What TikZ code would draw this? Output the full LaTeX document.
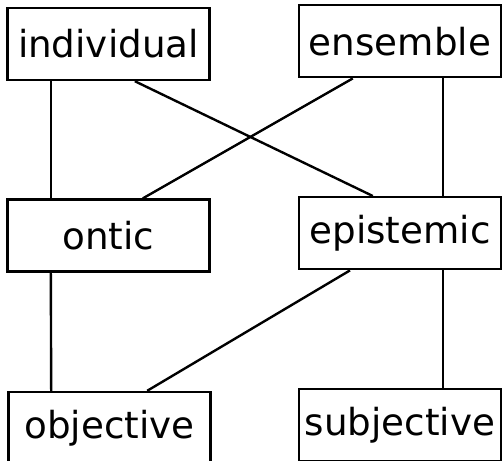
\documentclass[tikz,border=0pt]{standalone}
\usepackage{fontspec}
\setmainfont{DejaVu Sans}

\begin{document}
\begin{tikzpicture}

    \useasboundingbox (0,0) rectangle (12.575,-11.525);

    \begin{scope}[every node/.style={rectangle,draw,line width=1.7pt,minimum width=5.05cm,minimum height=1.8cm,inner sep=0pt,font=\fontsize{26.5}{30}\selectfont}]
        \node (individual) at (2.71,-1.1) {individual};
        \node (ensemble) at (10.0,-1.03) {ensemble};
        \node (ontic) at (2.71,-5.89) {ontic};
        \node (epistemic) at (10.0,-5.83) {epistemic};
        \node (objective) at (2.74,-10.7) {objective};
        \node (subjective) at (10.0,-10.63) {subjective};
    \end{scope}

    \begin{scope}[line width=1.7pt]
        \draw ([xshift=-1.44cm]individual.south) -- ([xshift=-1.44cm]ontic.north);
        \draw ([xshift=0.66cm]individual.south) -- ([xshift=-0.68cm]epistemic.north);
        \draw ([xshift=-1.18cm]ensemble.south) -- ([xshift=0.86cm]ontic.north);
        \draw ([xshift=1.08cm]ensemble.south) -- ([xshift=1.08cm]epistemic.north);
        \draw ([xshift=-1.44cm]ontic.south) -- ([xshift=-1.46cm]objective.north); % left column %
        \draw ([xshift=-1.25cm]epistemic.south) -- ([xshift=0.94cm]objective.north);
        \draw ([xshift=1.08cm]epistemic.south) -- ([xshift=1.08cm]subjective.north);
    \end{scope}

\end{tikzpicture}
\end{document}
